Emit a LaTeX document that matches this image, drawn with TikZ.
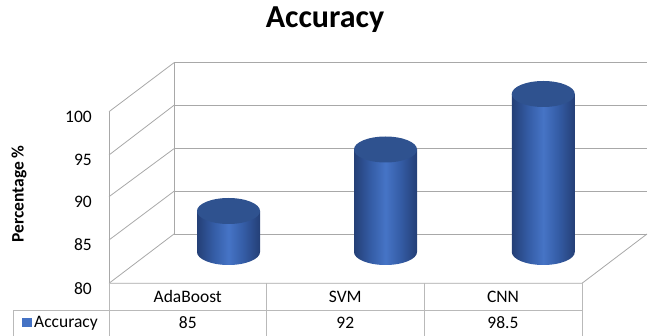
\documentclass[tikz,border=0pt]{standalone}
\usepackage{fontspec}
\setmainfont{Carlito}
\definecolor{gridgray}{RGB}{168,168,168}
\definecolor{tablegray}{RGB}{185,185,185}
\definecolor{cylDark}{RGB}{36,63,118}
\definecolor{cylMid}{RGB}{52,92,165}
\definecolor{cylLight}{RGB}{70,116,198}
\definecolor{cylTop}{RGB}{47,82,143}
\definecolor{legendBlue}{RGB}{68,114,196}
\pgfdeclarehorizontalshading{cylshade}{100bp}{color(0bp)=(cylDark); color(25bp)=(cylDark); color(38bp)=(cylMid); color(50bp)=(cylLight); color(62bp)=(cylMid); color(75bp)=(cylDark); color(100bp)=(cylDark)}
% one 3-D column: centre x, top centre y, base centre y
\newcommand\barcyl[3]{%
  \shade[shading=cylshade] (#1-31.5,#2) -- (#1-31.5,#3)
    arc[start angle=180, end angle=0, x radius=31.5, y radius=13] -- (#1+31.5,#2) -- cycle;
  \fill[cylTop] (#1,#2) ellipse[x radius=31.5, y radius=13];
}
\begin{document}
\begin{tikzpicture}[x=1pt,y=-1pt,
  gridline/.style={draw=gridgray, line width=0.8pt},
  tableline/.style={draw=tablegray, line width=0.8pt},
  ticklabel/.style={anchor=east, font=\fontsize{17.5}{20}\selectfont, inner sep=0pt},
  celltext/.style={font=\fontsize{17.5}{20}\selectfont, inner sep=0pt}]
\useasboundingbox (0,0) rectangle (649,336);

% title and axis label
\node[font=\bfseries\fontsize{32}{36}\selectfont, anchor=base] (title) at (325,28) {Accuracy};
\node[font=\bfseries\fontsize{17.5}{20}\selectfont, rotate=90] (ylabel) at (19,194) {Percentage \%};

% reference points of the box
\foreach \i/\yf/\yb in {0/283.3/234, 1/240/191.3, 2/196.7/148.7, 3/155/105.3, 4/111.7/62.7} {
  \coordinate (f\i) at (109,\yf);
  \coordinate (b\i) at (174,\yb);
  \coordinate (r\i) at (647,\yb);
}
\coordinate (fr) at (582,283.3);

% back wall, side wall and floor
\foreach \i in {0,...,4} {
  \draw[gridline] (f\i) -- (b\i);
  \draw[gridline] (b\i) -- (r\i);
}
\draw[gridline] (b0) -- (b4);
\draw[gridline] (f0) -- (f4);
\draw[gridline] (f0) -- (fr) -- (r0);

% tick labels
\foreach \i/\v in {0/80, 1/85, 2/90, 3/95, 4/100} {
  \node[ticklabel] (t\i) at ([yshift=-5pt]f\i -| 92,0) {\v};
}

% columns
\barcyl{228.5}{211}{252}
\barcyl{385.5}{149.5}{252}
\barcyl{543.3}{94}{252}

% data table
\coordinate (c0) at (109,336);
\coordinate (c1) at (266.5,336);
\coordinate (c2) at (424,336);
\coordinate (c3) at (582,336);
\coordinate (lg) at (13,336);
\draw[tableline] (f0) -- (c0);
\draw[tableline] (c1 |- f0) -- (c1);
\draw[tableline] (c2 |- f0) -- (c2);
\draw[tableline] (fr) -- (c3);
\draw[tableline] (13,310.5) -- (582,310.5);
\draw[tableline] (13,310.5) -- (lg);

\node[celltext] (k1) at (187.75,296.5) {AdaBoost};
\node[celltext] (k2) at (345.25,296.5) {SVM};
\node[celltext] (k3) at (503,296.5) {CNN};
\node[celltext] (v1) at (187.75,322.5) {85};
\node[celltext] (v2) at (345.25,322.5) {92};
\node[celltext] (v3) at (503,322.5) {98.5};

\fill[legendBlue] (22,318.3) rectangle (31.5,327.5);
\node[celltext, anchor=west] (leg) at (34,323) {Accuracy};
\end{tikzpicture}
\end{document}
